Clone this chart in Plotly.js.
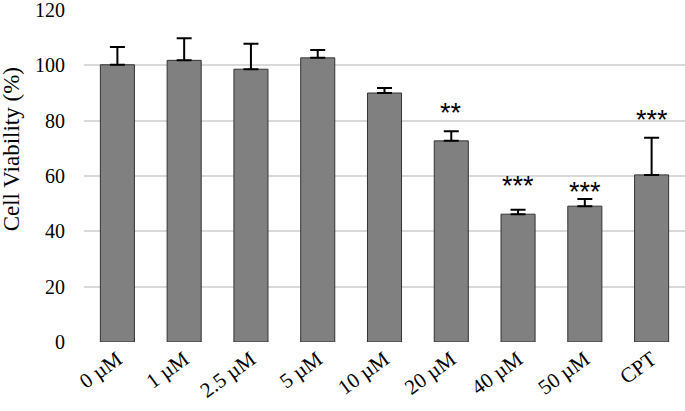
<!DOCTYPE html>
<html>
<head>
<meta charset="utf-8">
<script src="https://cdn.plot.ly/plotly-3.0.1.min.js"></script>
<style>
  body { margin: 0; background: #fff; }
  #chart { width: 685px; height: 411px; }
</style>
</head>
<body>
<div id="chart"></div>
<script>
var doses = ["0 µM", "1 µM", "2.5 µM", "5 µM", "10 µM", "20 µM", "40 µM", "50 µM", "CPT"];
var viability = [100.2, 101.8, 98.6, 102.7, 90.0, 72.7, 46.2, 49.1, 60.4];
var viabilitySD = [6.4, 8.0, 9.2, 2.8, 1.8, 3.5, 1.6, 2.6, 13.4];
var sigLabels = ["", "", "", "", "", "**", "***", "***", "***"];
var sigHeights = [0, 0, 0, 0, 0, 84.4, 58.2, 56.2, 81.9];

var trace = {
  x: doses,
  y: viability,
  type: "bar",
  width: 0.51,
  marker: { color: "#808080", line: { color: "#333333", width: 1 } },
  error_y: { type: "data", array: viabilitySD, symmetric: false, arrayminus: viabilitySD.map(() => 0),
             color: "#000000", thickness: 2, width: 7.5 }
};

var notes = [];
doses.forEach((d, i) => {
  if (sigLabels[i]) {
    notes.push({ x: d, y: sigHeights[i], xref: "x", yref: "y", text: sigLabels[i],
                 yshift: -5, showarrow: false,
                 font: { family: "Liberation Sans, Arial", size: 27, color: "#000" } });
  }
});
// y axis title sits a bit above the middle, as in the original
notes.push({ x: -0.12, y: 0.58, xref: "paper", yref: "paper", xanchor: "center", yanchor: "middle",
             text: "Cell Viability (%)", textangle: -90, showarrow: false, font: { size: 23 } });

var layout = {
  width: 685,
  height: 411,
  margin: { l: 84, r: 0, t: 10, b: 69 },
  paper_bgcolor: "#fff",
  plot_bgcolor: "#fff",
  font: { family: "Liberation Serif, Times New Roman, serif", size: 20, color: "#000" },
  showlegend: false,
  xaxis: {
    tickangle: -36,
    automargin: false,
    showgrid: false,
    showline: false,
    zeroline: false,
    ticks: "",
    tickfont: { size: 21 }
  },
  yaxis: {
    range: [0, 120],
    dtick: 20,
    showgrid: true,
    gridcolor: "#d9d9d9",
    gridwidth: 2,
    zeroline: false,
    showline: false,
    automargin: false,
    ticks: "outside",
    ticklen: 14,
    tickcolor: "rgba(0,0,0,0)",
    ticklabeloverflow: "allow",
    tickfont: { size: 20 }
  },
  annotations: notes
};

Plotly.newPlot("chart", [trace], layout, { displayModeBar: false, staticPlot: true });
</script>
</body>
</html>
